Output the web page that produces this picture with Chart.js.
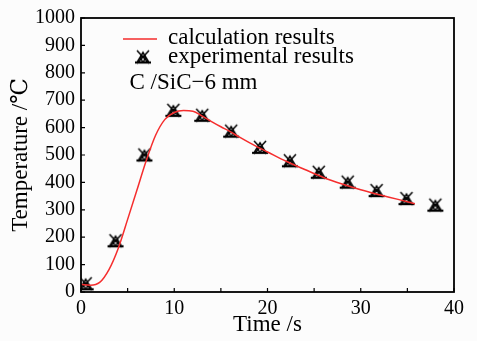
<!DOCTYPE html>
<html>
<head>
<meta charset="utf-8">
<script src="https://cdn.jsdelivr.net/npm/chart.js@4"></script>
<style>
html, body { margin: 0; padding: 0; background: #fcfcfc; }
</style>
</head>
<body>
<canvas id="chart" width="477" height="341"></canvas>
<script>
// calculated curve (s, °C)
const calcTime = [0, 1, 2, 3, 4, 5, 6, 7, 8, 9, 10, 11, 12, 13, 14, 15, 16, 17, 18, 19, 20, 22, 24, 26, 28, 30, 32, 34, 35.8];
const calcTemp = [28, 25, 35, 82, 160, 265, 372, 480, 572, 630, 655, 662, 660, 642, 622, 603, 585, 565, 546, 528, 511, 477, 447, 418, 394, 373, 355, 338, 322];

// measured points
const expTime = [0.5, 3.7, 6.8, 9.9, 13.0, 16.1, 19.2, 22.4, 25.5, 28.6, 31.7, 34.9, 38.0];
const expTemp = [30, 187, 500, 663, 645, 587, 528, 479, 437, 401, 370, 341, 317];

const seriesNames = ['calculation results', 'experimental results'];
const note = 'C /SiC\u22126 mm';
const xTitle = 'Time /s';
const yTitle = 'Temperature /\u2103';

const serif = '"Liberation Serif", "DejaVu Serif", serif';
Chart.defaults.font.family = serif;
Chart.defaults.font.size = 20;
Chart.defaults.color = '#000';

// marker: triangle with a cross through it
function makeMarker() {
    const c = document.createElement('canvas');
    c.width = 18;
    c.height = 17;
    const g = c.getContext('2d');
    g.strokeStyle = '#000';
    g.lineWidth = 1.5;
    g.beginPath();
    g.moveTo(3, 14); g.lineTo(9, 4); g.lineTo(15, 14); g.closePath();
    g.stroke();
    g.beginPath();
    g.moveTo(3, 2); g.lineTo(15, 15);
    g.moveTo(15, 2); g.lineTo(3, 15);
    g.stroke();
    g.lineWidth = 2.2;
    g.beginPath();
    g.moveTo(1, 14); g.lineTo(17, 14);
    g.stroke();
    g.lineWidth = 1.3;
    g.beginPath();
    g.arc(9, 10, 2.3, 0, Math.PI * 2);
    g.stroke();
    return c;
}
const marker = makeMarker();

const frameAndTicks = {
    id: 'frameAndTicks',
    afterDraw(chart) {
        const { ctx, chartArea: a, scales: { x, y } } = chart;
        ctx.save();
        ctx.strokeStyle = '#000';
        ctx.lineWidth = 1.2;
        ctx.beginPath();
        for (let v = x.min; v <= x.max; v += 5) {
            const px = x.getPixelForValue(v);
            ctx.moveTo(px, a.bottom); ctx.lineTo(px, a.bottom - 4);
        }
        for (let v = y.min; v <= y.max; v += 100) {
            const py = y.getPixelForValue(v);
            ctx.moveTo(a.left, py); ctx.lineTo(a.left + 4, py);
        }
        ctx.stroke();
        ctx.lineWidth = 1.8;
        ctx.strokeRect(a.left, a.top, a.right - a.left, a.bottom - a.top);

        // legend
        ctx.font = '23px ' + serif;
        ctx.fillStyle = '#000';
        ctx.textBaseline = 'middle';
        const lx = a.left + 42, tx = a.left + 87;
        const r1 = a.top + 21, r2 = a.top + 39;
        ctx.strokeStyle = chart.data.datasets[0].borderColor;
        ctx.lineWidth = 1.5;
        ctx.beginPath();
        ctx.moveTo(lx, r1); ctx.lineTo(lx + 34, r1);
        ctx.stroke();
        ctx.fillText(chart.data.datasets[0].label, tx, r1 - 1);
        ctx.drawImage(marker, lx + 20 - marker.width / 2, r2 - marker.height / 2);
        ctx.fillText(chart.data.datasets[1].label, tx, r2);

        // note
        ctx.fillText(note, x.getPixelForValue(5.2), y.getPixelForValue(762));
        ctx.restore();
    }
};

new Chart(document.getElementById('chart'), {
    type: 'scatter',
    data: {
        datasets: [{
            label: seriesNames[0],
            type: 'line',
            data: calcTime.map((t, i) => ({ x: t, y: calcTemp[i] })),
            borderColor: 'rgb(245, 45, 45)',
            borderWidth: 1.5,
            pointRadius: 0,
            cubicInterpolationMode: 'monotone',
            fill: false
        }, {
            label: seriesNames[1],
            data: expTime.map((t, i) => ({ x: t, y: expTemp[i] })),
            pointStyle: marker
        }]
    },
    options: {
        responsive: false,
        animation: false,
        devicePixelRatio: 1,
        layout: { padding: { top: 14, right: 23, left: 0, bottom: 0 } },
        plugins: {
            legend: { display: false },
            tooltip: { enabled: false }
        },
        scales: {
            x: {
                type: 'linear',
                min: 0,
                max: 40,
                ticks: { stepSize: 10, padding: 5, maxRotation: 0, callback: v => String(v) },
                grid: { display: false, drawTicks: false },
                border: { display: false },
                title: { display: true, text: xTitle, font: { size: 23 }, padding: { top: 0, bottom: 2 } },
                afterFit: s => { s.height = 49; }
            },
            y: {
                min: 0,
                max: 1000,
                ticks: { stepSize: 100, padding: 6, callback: v => String(v) },
                grid: { display: false, drawTicks: false },
                border: { display: false },
                title: { display: true, text: yTitle, font: { size: 23 }, padding: { top: 7, bottom: 0 } },
                afterFit: s => { s.width = 81; }
            }
        }
    },
    plugins: [frameAndTicks]
});
</script>
</body>
</html>
